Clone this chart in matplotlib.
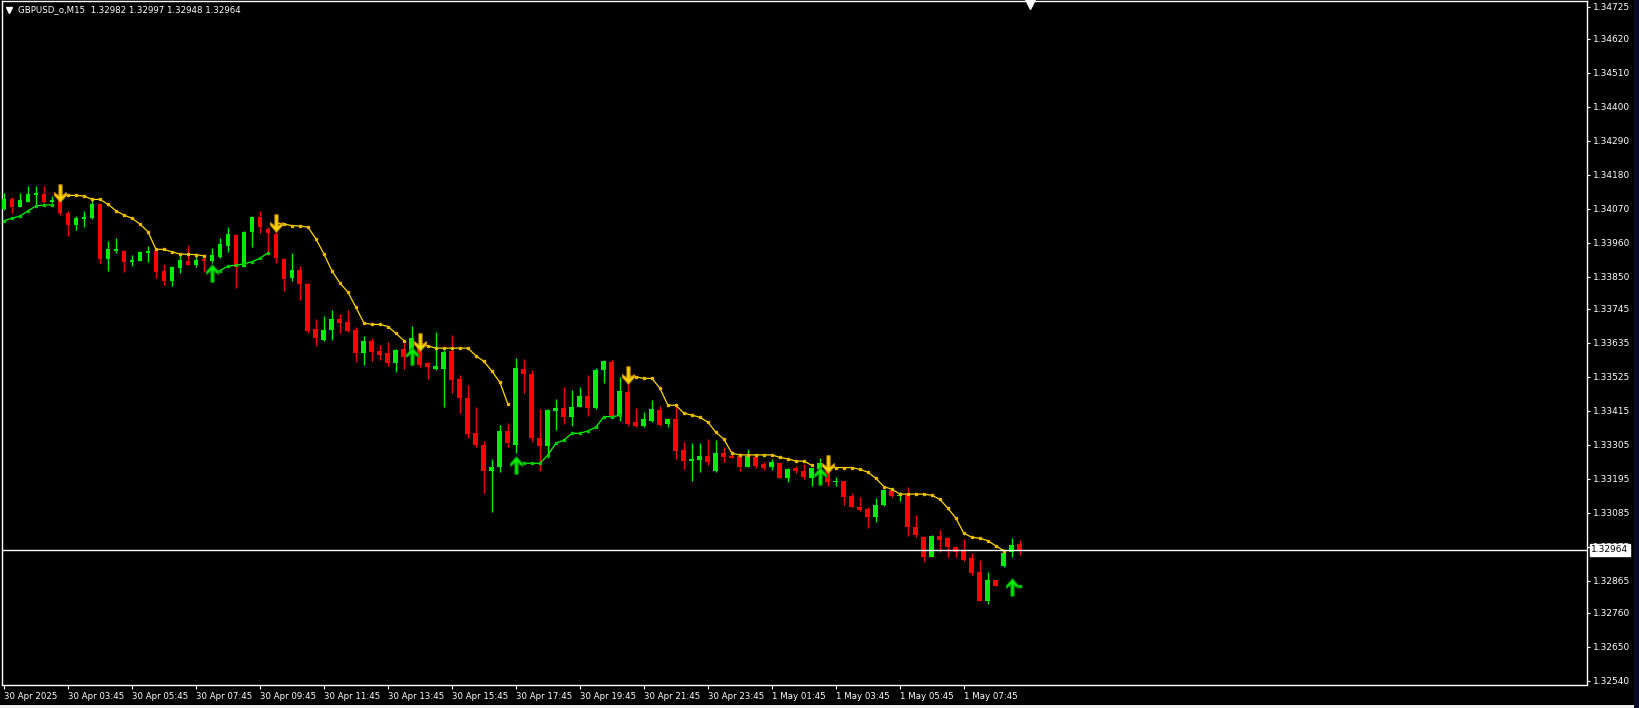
import numpy as np
import matplotlib
matplotlib.use("Agg")
import matplotlib.pyplot as plt
from matplotlib.path import Path
from matplotlib.patches import Rectangle

nan = float("nan")

# GBPUSD_o M15, bars from 30 Apr 01:45 to 1 May 09:30
opens = [1.34068, 1.34100, 1.34076, 1.34092, 1.34114, 1.34117, 1.34091, 1.34098, 1.34057, 1.34017,
         1.34036, 1.34041, 1.34085, 1.33907, 1.33933, 1.33933, 1.33898, 1.33901, 1.33927, 1.33933,
         1.33868, 1.33837, 1.33879, 1.33900, 1.33888, 1.33908, 1.33900, 1.33912, 1.33950, 1.33985,
         1.33882, 1.33995, 1.34042, 1.34004, 1.33988, 1.33907, 1.33846, 1.33871, 1.33826, 1.33680,
         1.33644, 1.33677, 1.33712, 1.33703, 1.33677, 1.33603, 1.33641, 1.33609, 1.33601, 1.33571,
         1.33615, 1.33596, 1.33623, 1.33571, 1.33550, 1.33550, 1.33610, 1.33518, 1.33456, 1.33342,
         1.33304, 1.33221, 1.33234, 1.33350, 1.33304, 1.33550, 1.33534, 1.33328, 1.33302, 1.33415,
         1.33425, 1.33396, 1.33428, 1.33464, 1.33425, 1.33547, 1.33574, 1.33398, 1.33477, 1.33380,
         1.33367, 1.33382, 1.33418, 1.33372, 1.33388, 1.33288, 1.33253, 1.33256, 1.33270, 1.33221,
         1.33279, 1.33270, 1.33270, 1.33234, 1.33266, 1.33243, 1.33234, 1.33245, 1.33198, 1.33231,
         1.33220, 1.33198, 1.33225, 1.33223, 1.33185, 1.33188, 1.33139, 1.33103, 1.33097, 1.33072,
         1.33110, 1.33158, 1.33139, 1.33142, 1.33040, 1.33007, 1.32942, 1.33009, 1.33004, 1.32975,
         1.32961, 1.32939, 1.32891, 1.32799, 1.32867, 1.32913, 1.32958, 1.32982]
highs = [1.34120, 1.34109, 1.34120, 1.34143, 1.34143, 1.34143, 1.34111, 1.34114, 1.34062, 1.34046,
         1.34063, 1.34100, 1.34088, 1.33966, 1.33974, 1.33936, 1.33919, 1.33933, 1.33949, 1.33938,
         1.33891, 1.33884, 1.33923, 1.33952, 1.33925, 1.33923, 1.33941, 1.33974, 1.34012, 1.33988,
         1.33998, 1.34046, 1.34062, 1.34012, 1.34003, 1.33911, 1.33925, 1.33884, 1.33829, 1.33712,
         1.33722, 1.33742, 1.33729, 1.33742, 1.33688, 1.33657, 1.33652, 1.33628, 1.33637, 1.33615,
         1.33636, 1.33690, 1.33647, 1.33574, 1.33670, 1.33612, 1.33661, 1.33531, 1.33499, 1.33426,
         1.33317, 1.33258, 1.33369, 1.33375, 1.33585, 1.33583, 1.33547, 1.33421, 1.33421, 1.33453,
         1.33493, 1.33482, 1.33493, 1.33531, 1.33555, 1.33580, 1.33580, 1.33525, 1.33515, 1.33423,
         1.33412, 1.33450, 1.33431, 1.33391, 1.33434, 1.33315, 1.33312, 1.33311, 1.33324, 1.33320,
         1.33299, 1.33286, 1.33277, 1.33291, 1.33270, 1.33250, 1.33258, 1.33247, 1.33231, 1.33237,
         1.33242, 1.33231, 1.33261, 1.33250, 1.33200, 1.33189, 1.33148, 1.33135, 1.33102, 1.33132,
         1.33162, 1.33166, 1.33153, 1.33167, 1.33077, 1.33009, 1.33011, 1.33029, 1.33006, 1.32978,
         1.32999, 1.32953, 1.32932, 1.32893, 1.32868, 1.32962, 1.33004, 1.32997]
lows = [1.34066, 1.34057, 1.34074, 1.34090, 1.34076, 1.34087, 1.34087, 1.34049, 1.33981, 1.34001,
        1.34012, 1.34038, 1.33895, 1.33869, 1.33927, 1.33866, 1.33884, 1.33899, 1.33897, 1.33846,
        1.33823, 1.33819, 1.33861, 1.33886, 1.33882, 1.33866, 1.33893, 1.33909, 1.33930, 1.33812,
        1.33880, 1.33945, 1.33992, 1.33920, 1.33895, 1.33804, 1.33837, 1.33774, 1.33666, 1.33626,
        1.33642, 1.33644, 1.33668, 1.33671, 1.33574, 1.33563, 1.33577, 1.33580, 1.33561, 1.33542,
        1.33549, 1.33563, 1.33558, 1.33518, 1.33547, 1.33428, 1.33474, 1.33407, 1.33326, 1.33297,
        1.33148, 1.33088, 1.33218, 1.33297, 1.33279, 1.33474, 1.33315, 1.33221, 1.33261, 1.33353,
        1.33372, 1.33367, 1.33426, 1.33399, 1.33422, 1.33506, 1.33396, 1.33383, 1.33367, 1.33363,
        1.33364, 1.33378, 1.33367, 1.33363, 1.33259, 1.33226, 1.33189, 1.33218, 1.33239, 1.33218,
        1.33250, 1.33261, 1.33221, 1.33232, 1.33229, 1.33223, 1.33223, 1.33196, 1.33185, 1.33213,
        1.33194, 1.33172, 1.33223, 1.33172, 1.33171, 1.33110, 1.33102, 1.33091, 1.33036, 1.33053,
        1.33107, 1.33135, 1.33124, 1.33010, 1.33007, 1.32926, 1.32940, 1.32958, 1.32942, 1.32942,
        1.32929, 1.32883, 1.32797, 1.32788, 1.32847, 1.32910, 1.32942, 1.32948]
closes = [1.34100, 1.34074, 1.34098, 1.34117, 1.34122, 1.34091, 1.34098, 1.34057, 1.34017, 1.34041,
          1.34044, 1.34085, 1.33907, 1.33939, 1.33939, 1.33898, 1.33904, 1.33930, 1.33932, 1.33866,
          1.33837, 1.33880, 1.33904, 1.33888, 1.33904, 1.33901, 1.33920, 1.33955, 1.33988, 1.33882,
          1.33994, 1.34044, 1.34012, 1.33990, 1.33911, 1.33842, 1.33871, 1.33826, 1.33675, 1.33650,
          1.33677, 1.33712, 1.33699, 1.33675, 1.33603, 1.33641, 1.33607, 1.33596, 1.33571, 1.33612,
          1.33590, 1.33652, 1.33563, 1.33558, 1.33561, 1.33605, 1.33515, 1.33457, 1.33340, 1.33304,
          1.33221, 1.33233, 1.33350, 1.33310, 1.33555, 1.33534, 1.33328, 1.33302, 1.33418, 1.33425,
          1.33396, 1.33428, 1.33464, 1.33425, 1.33547, 1.33576, 1.33398, 1.33479, 1.33372, 1.33366,
          1.33388, 1.33421, 1.33369, 1.33388, 1.33286, 1.33253, 1.33259, 1.33269, 1.33250, 1.33279,
          1.33266, 1.33263, 1.33234, 1.33270, 1.33237, 1.33231, 1.33250, 1.33198, 1.33226, 1.33220,
          1.33202, 1.33229, 1.33245, 1.33185, 1.33188, 1.33134, 1.33104, 1.33094, 1.33072, 1.33110,
          1.33158, 1.33139, 1.33142, 1.33040, 1.33013, 1.32942, 1.33009, 1.32996, 1.32975, 1.32958,
          1.32932, 1.32889, 1.32799, 1.32867, 1.32848, 1.32955, 1.32980, 1.32964]

# trailing stop lines (upper = yellow, lower = green)
upper_line = [nan, nan, nan, nan, nan, nan, nan, 1.34114, 1.34113, 1.34113,
              1.34111, 1.34100, 1.34100, 1.34084, 1.34063, 1.34049, 1.34039, 1.34020, 1.33995, 1.33938,
              1.33938, 1.33930, 1.33923, 1.33922, 1.33921, 1.33917, nan, nan, nan, nan,
              nan, nan, nan, nan, 1.34024, 1.34020, 1.34015, 1.34014, 1.34010, 1.33972,
              1.33923, 1.33868, 1.33829, 1.33799, 1.33750, 1.33699, 1.33695, 1.33695, 1.33688, 1.33666,
              1.33642, nan, 1.33628, 1.33625, 1.33618, 1.33618, 1.33618, 1.33618, 1.33618, 1.33593,
              1.33575, 1.33543, 1.33507, 1.33436, nan, nan, nan, nan, nan, nan,
              nan, nan, nan, nan, nan, nan, nan, nan, 1.33528, 1.33525,
              1.33520, 1.33520, 1.33488, 1.33433, 1.33433, 1.33407, 1.33401, 1.33394, 1.33378, 1.33345,
              1.33323, 1.33277, 1.33272, 1.33272, 1.33272, 1.33272, 1.33272, 1.33264, 1.33259, 1.33252,
              1.33252, 1.33238, nan, 1.33231, 1.33231, 1.33231, 1.33231, 1.33225, 1.33216, 1.33196,
              1.33169, 1.33161, 1.33145, 1.33145, 1.33145, 1.33145, 1.33141, 1.33128, 1.33099, 1.33067,
              1.33018, 1.33005, 1.33002, 1.32994, 1.32977, 1.32962, nan, nan]
lower_line = [1.34031, 1.34039, 1.34046, 1.34063, 1.34079, 1.34082, 1.34082, nan, nan, nan,
              nan, nan, nan, nan, nan, nan, nan, nan, nan, nan,
              nan, nan, nan, nan, nan, nan, 1.33869, 1.33869, 1.33884, 1.33887,
              1.33891, 1.33898, 1.33909, 1.33927, nan, nan, nan, nan, nan, nan,
              nan, nan, nan, nan, nan, nan, nan, nan, nan, nan,
              nan, nan, nan, nan, nan, nan, nan, nan, nan, nan,
              nan, nan, nan, nan, 1.33245, 1.33245, 1.33245, 1.33245, 1.33272, 1.33310,
              1.33320, 1.33342, 1.33342, 1.33350, 1.33362, 1.33396, 1.33396, 1.33400, nan, nan,
              nan, nan, nan, nan, nan, nan, nan, nan, nan, nan,
              nan, nan, nan, nan, nan, nan, nan, nan, nan, nan,
              nan, nan, nan, nan, nan, nan, nan, nan, nan, nan,
              nan, nan, nan, nan, nan, nan, nan, nan, nan, nan,
              nan, nan, nan, nan, nan, nan, 1.32847, 1.32847]

# signal arrows
down_bars = [7, 34, 52, 78, 103]
down_prices = [1.34121, 1.34024, 1.33639, 1.33532, 1.33243]
up_bars = [26, 51, 64, 102, 126]
up_prices = [1.33861, 1.33593, 1.33240, 1.33205, 1.32843]

price_levels = [1.34725, 1.34620, 1.34510, 1.34400, 1.34290, 1.34180, 1.34070, 1.33960, 1.33850,
                1.33745, 1.33635, 1.33525, 1.33415, 1.33305, 1.33195, 1.33085, 1.32975, 1.32865,
                1.32760, 1.32650, 1.32540]
time_ticks = [0, 8, 16, 24, 32, 40, 48, 56, 64, 72, 80, 88, 96, 104, 112, 120]
time_labels = ["30 Apr 2025", "30 Apr 03:45", "30 Apr 05:45", "30 Apr 07:45", "30 Apr 09:45",
               "30 Apr 11:45", "30 Apr 13:45", "30 Apr 15:45", "30 Apr 17:45", "30 Apr 19:45",
               "30 Apr 21:45", "30 Apr 23:45", "1 May 01:45", "1 May 03:45", "1 May 05:45",
               "1 May 07:45"]
last_price = 1.32964

o = np.array(opens)
h = np.array(highs)
l = np.array(lows)
c = np.array(closes)
x = np.arange(len(o))
bull = c >= o
GREEN = "#00ee00"
RED = "#ff0000"
GOLD = "#ffd700"
cols = np.where(bull, GREEN, RED)

fig = plt.figure(figsize=(16.4, 7.08), dpi=100, facecolor="black")
ax = fig.add_axes([2.5 / 1640, 23.5 / 708, 1584.5 / 1640, 683.2 / 708])
ax.set_facecolor("black")

# candles
ax.vlines(x, l, h, colors=cols, lw=1.0, zorder=2)
body_h = np.maximum(np.abs(c - o), 0.00003)
ax.bar(x, body_h, bottom=np.minimum(o, c), width=0.62, color=cols, linewidth=0, zorder=3)

# indicator lines
ax.plot(x, upper_line, color=GOLD, lw=0.9, marker="s", ms=2.0, mfc="#e8b800", mec="#e8b800", zorder=4)
ax.plot(x, lower_line, color="#00ff00", lw=0.9, marker="s", ms=2.0, mfc="#00c800", mec="#00c800", zorder=4)

# arrow markers
dn = Path([(-0.18, 1), (0.18, 1), (0.18, -0.3), (0.7, 0.1), (0.7, -0.2), (0, -1),
           (-0.7, -0.2), (-0.7, 0.1), (-0.18, -0.3), (-0.18, 1)],
          [Path.MOVETO] + [Path.LINETO] * 8 + [Path.CLOSEPOLY])
up = Path([(vx, -vy) for vx, vy in dn.vertices], dn.codes)
ax.plot(down_bars, down_prices, ls="none", marker=dn, ms=12.5, mfc=GOLD, mec="#c89000", mew=0.8, zorder=6)
ax.plot(up_bars, up_prices, ls="none", marker=up, ms=12.5, mfc="#00ee00", mec="#009a00", mew=0.8, zorder=6)

# bid line and label
ax.axhline(last_price, color="white", lw=1.0, zorder=5)
ax.annotate(f"{last_price:.5f}", xy=(1, last_price), xycoords=("axes fraction", "data"),
            xytext=(3.0, 0), textcoords="offset points", va="center", ha="left",
            fontsize=6.5, color="black", annotation_clip=False, zorder=10,
            bbox=dict(boxstyle="square,pad=0.15", fc="white", ec="white"))

ax.set_xlim(-0.19, 197.9)
ax.set_ylim(1.32528, 1.34742)

ax.yaxis.tick_right()
ax.set_yticks(price_levels)
ax.set_yticklabels([f"{p:.5f}" for p in price_levels])
ax.set_xticks(time_ticks)
ax.set_xticklabels(time_labels, ha="left")
ax.tick_params(axis="y", colors="white", labelsize=6.5, length=2.5, width=0.8, pad=2.0)
ax.tick_params(axis="x", colors="white", labelsize=6.2, length=3, width=0.8, pad=2.5)
for s in ax.spines.values():
    s.set_color("white")
    s.set_linewidth(1.0)

# header text
fig.text(18 / 1640, 1 - 10 / 708, "GBPUSD_o,M15  1.32982 1.32997 1.32948 1.32964",
         color="white", fontsize=6.2, va="center", ha="left")
fig.add_artist(plt.Line2D([9.5 / 1640], [1 - 9.5 / 708], marker="v", ms=4.5, color="white",
                          transform=fig.transFigure))
# chart shift marker
fig.add_artist(plt.Line2D([1030.5 / 1640], [1 - 4 / 708], marker="v", ms=6.5, color="white",
                          transform=fig.transFigure))

# window edges
fig.add_artist(Rectangle((0, 0), 1, 3 / 708, transform=fig.transFigure, fc="#f0f0f0", ec="none"))
fig.add_artist(Rectangle((1634 / 1640, 0), 6 / 1640, 1, transform=fig.transFigure, fc="#0a0a28", ec="none"))

fig.savefig("out.png", dpi=100, facecolor="black")
